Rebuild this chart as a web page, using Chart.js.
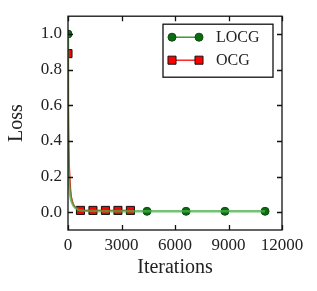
<!DOCTYPE html>
<html>
<head>
<meta charset="utf-8">
<script src="https://cdn.jsdelivr.net/npm/chart.js@4/dist/chart.umd.min.js"></script>
<style>
  html, body { margin: 0; padding: 0; background: #fff; }
  #wrap { width: 317px; height: 291px; }
</style>
</head>
<body>
<div id="wrap"><canvas id="lossChart" width="317" height="291"></canvas></div>
<script>
// veriler
const xTicks = [0, 3000, 6000, 9000, 12000];
const yTicks = [0.0, 0.2, 0.4, 0.6, 0.8, 1.0];

// LOCG: isaretli noktalar ve egri
const locgIter = [0, 4430, 6620, 8800, 11050];
const locgLoss = [1.0, 0.005, 0.005, 0.005, 0.005];
const locgCurveIter = [0, 5, 20, 50, 100, 200, 400, 700, 4430, 6620, 8800, 11050];
const locgCurveLoss = [1.0, 0.6, 0.35, 0.2, 0.12, 0.06, 0.025, 0.01, 0.005, 0.005, 0.005, 0.005];

// OCG
const ocgIter = [0, 700, 1400, 2100, 2800, 3500];
const ocgLoss = [0.89, 0.01, 0.01, 0.01, 0.01, 0.01];
const ocgCurveIter = [0, 10, 30, 60, 100, 150, 200, 300, 450, 700, 1400, 2100, 2800, 3500];
const ocgCurveLoss = [0.89, 0.7, 0.45, 0.3, 0.2, 0.12, 0.08, 0.045, 0.025, 0.01, 0.01, 0.01, 0.01, 0.01];

const pts = (xs, ys) => xs.map((x, i) => ({ x: x, y: ys[i] }));

const serif = "'Liberation Serif', 'Times New Roman', serif";
const green = '#0b6b12';
const greenLine = 'rgba(70,175,70,0.75)';
const red = '#ff0000';

// cerceve ve ice bakan tik cizgileri
const framePlugin = {
    id: 'frame',
    afterDatasetsDraw(chart) {
        const ctx = chart.ctx;
        const a = chart.chartArea;
        const xs = chart.scales.x, ys = chart.scales.y;
        const len = 5;
        ctx.save();
        ctx.strokeStyle = '#111';
        ctx.lineWidth = 1.3;
        ctx.strokeRect(a.left, a.top, a.right - a.left, a.bottom - a.top);
        ctx.beginPath();
        xTicks.forEach(v => {
            const px = Math.round(xs.getPixelForValue(v)) + 0.5;
            ctx.moveTo(px, a.bottom); ctx.lineTo(px, a.bottom - len);
            ctx.moveTo(px, a.top); ctx.lineTo(px, a.top + len);
        });
        yTicks.forEach(v => {
            const py = Math.round(ys.getPixelForValue(v)) + 0.5;
            ctx.moveTo(a.left, py); ctx.lineTo(a.left + len, py);
            ctx.moveTo(a.right, py); ctx.lineTo(a.right - len, py);
        });
        ctx.stroke();
        ctx.restore();
    }
};

// grafik icindeki lejant kutusu
const legendPlugin = {
    id: 'boxLegend',
    afterDraw(chart) {
        const ctx = chart.ctx;
        const a = chart.chartArea;
        const bx = a.right - 119, by = a.top + 8, bw = 110, bh = 53;
        ctx.save();
        ctx.fillStyle = '#fff';
        ctx.fillRect(bx, by, bw, bh);
        ctx.strokeStyle = '#111';
        ctx.lineWidth = 1.3;
        ctx.strokeRect(bx, by, bw, bh);
        const items = [
            { label: 'LOCG', ds: chart.data.datasets[1], line: '#1a8a1a' },
            { label: 'OCG', ds: chart.data.datasets[3], line: red }
        ];
        items.forEach((it, i) => {
            const y = by + 13 + i * 23;
            const x1 = bx + 9, x2 = bx + 36;
            ctx.strokeStyle = it.line;
            ctx.lineWidth = 1.3;
            ctx.beginPath(); ctx.moveTo(x1, y); ctx.lineTo(x2, y); ctx.stroke();
            [x1, x2].forEach(x => {
                ctx.fillStyle = it.ds.pointBackgroundColor;
                ctx.strokeStyle = it.ds.pointBorderColor;
                ctx.lineWidth = it.ds.pointBorderWidth;
                ctx.beginPath();
                if (it.ds.pointStyle === 'rect') {
                    const s = it.ds.pointRadius * Math.SQRT1_2;
                    ctx.rect(x - s, y - s, 2 * s, 2 * s);
                } else {
                    ctx.arc(x, y, it.ds.pointRadius, 0, Math.PI * 2);
                }
                ctx.fill(); ctx.stroke();
            });
            ctx.fillStyle = '#222';
            ctx.font = '16px ' + serif;
            ctx.textBaseline = 'middle';
            ctx.textAlign = 'left';
            ctx.fillText(it.label, bx + 53, y + 1);
        });
        ctx.restore();
    }
};

new Chart(document.getElementById('lossChart'), {
    type: 'line',
    data: {
        datasets: [
            {
                label: 'LOCG curve',
                data: pts(locgCurveIter, locgCurveLoss),
                borderColor: greenLine,
                borderWidth: 2.5,
                pointRadius: 0,
                tension: 0.3
            },
            {
                label: 'LOCG',
                data: pts(locgIter, locgLoss),
                showLine: false,
                pointStyle: 'circle',
                pointRadius: 4,
                pointBorderWidth: 1,
                pointBackgroundColor: green,
                pointBorderColor: '#0a4d0e'
            },
            {
                label: 'OCG curve',
                data: pts(ocgCurveIter, ocgCurveLoss),
                borderColor: red,
                borderWidth: 1.4,
                pointRadius: 0,
                tension: 0.3
            },
            {
                label: 'OCG',
                data: pts(ocgIter, ocgLoss),
                showLine: false,
                pointStyle: 'rect',
                pointRadius: 5.7,
                pointBorderWidth: 1,
                pointBackgroundColor: red,
                pointBorderColor: '#111'
            }
        ]
    },
    options: {
        responsive: false,
        animation: false,
        layout: { padding: { top: 10, right: 35, left: 0, bottom: 0 } },
        plugins: { legend: { display: false }, tooltip: { enabled: false } },
        scales: {
            x: {
                type: 'linear',
                min: 0,
                max: 12000,
                afterFit(s) { s.height = 61; },
                afterBuildTicks(s) { s.ticks = xTicks.map(v => ({ value: v })); },
                grid: { display: false, drawTicks: false },
                border: { display: false },
                ticks: {
                    padding: 5,
                    maxRotation: 0,
                    autoSkip: false,
                    color: '#222',
                    font: { family: serif, size: 17 },
                    callback: v => String(v)
                },
                title: {
                    display: true,
                    text: 'Iterations',
                    color: '#222',
                    font: { family: serif, size: 20 },
                    padding: { top: 0, bottom: 11 }
                }
            },
            y: {
                min: -0.1,
                max: 1.1,
                afterFit(s) { s.width = 68; },
                afterBuildTicks(s) { s.ticks = yTicks.map(v => ({ value: v })); },
                grid: { display: false, drawTicks: false },
                border: { display: false },
                ticks: {
                    padding: 6,
                    color: '#222',
                    font: { family: serif, size: 17 },
                    callback: v => v.toFixed(1)
                },
                title: {
                    display: true,
                    text: 'Loss',
                    color: '#222',
                    font: { family: serif, size: 20 },
                    padding: { top: 5, bottom: 0 }
                }
            }
        }
    },
    plugins: [framePlugin, legendPlugin]
});
</script>
</body>
</html>
